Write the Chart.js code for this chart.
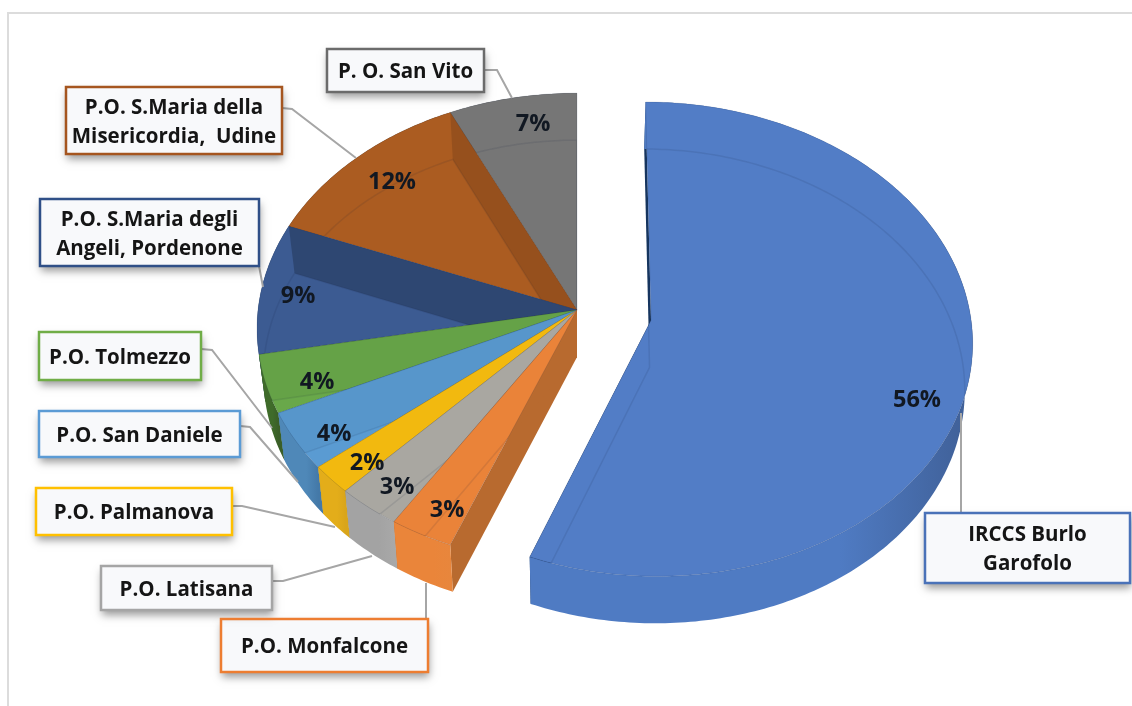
<!DOCTYPE html>
<html>
<head>
<meta charset="utf-8">
<style>
  html, body { margin: 0; padding: 0; background: #fff; overflow: hidden; }
  canvas { display: block; }
</style>
<script src="https://cdn.jsdelivr.net/npm/chart.js@4/dist/chart.umd.min.js"></script>
</head>
<body>
<canvas id="myChart" width="1132" height="706"></canvas>
<script>
// data
const categories = ['IRCCS Burlo Garofolo', 'P.O. Monfalcone', 'P.O. Latisana', 'P.O. Palmanova', 'P.O. San Daniele',
    'P.O. Tolmezzo', 'P.O. S.Maria degli Angeli, Pordenone', 'P.O. S.Maria della Misericordia, Udine', 'P. O. San Vito'];
const shares = [56, 3, 3, 2, 4, 4, 9, 12, 7];
const explode = [226, 0, 0, 0, 0, 0, 0, 0, 0];

// styles, same order as categories
const topColors = ['#527dc6', '#ea8339', '#a9a7a1', '#f2b90f', '#5a9bd2', '#69a84a', '#3c5b92', '#ab5c21', '#767676'];
const wallColors = ['#4f7bc3', '#ea853a', '#a3a3a3', '#e3ad1a', '#4f88b8', '#3f6b2a', '#31507f', '#8f4c18', '#666666'];
const wallEndColors = ['#3f5f96', '#e8863c', '#a8a8a8', '#d9a51a', '#4479a8', '#3a5f28', '#31507f', '#8f4c18', '#666666'];
const sideColors = ['#16355f', '#b86a2f', '#8f8f8f', '#c99a14', '#4479a8', '#3f6b2a', '#27406f', '#8f4c18', '#666666'];
const shadeAlpha = [0, 0, 0, 0, 0.03, 0.03, 0.22, 0.12, 0];
const borderColors = ['#4a72b8', '#ed7d31', '#a5a5a5', '#ffc000', '#5b9bd5', '#70ad47', '#2f4f87', '#a5551f', '#6b6b6b'];

// label layout
const labelBoxes = [
    { lines: ['IRCCS Burlo', 'Garofolo'], box: [925, 513, 205, 70], leader: [[961, 513], [961, 413]] },
    { lines: ['P.O. Monfalcone'], box: [221, 619, 207, 53], leader: [[426, 619], [426, 583]] },
    { lines: ['P.O. Latisana'], box: [101, 566, 171, 44], leader: [[272, 581], [283, 581], [372, 556]] },
    { lines: ['P.O. Palmanova'], box: [36, 488, 196, 47], leader: [[232, 506], [242, 506], [335, 527]] },
    { lines: ['P.O. San Daniele'], box: [39, 411, 201, 46], leader: [[240, 426], [250, 427], [298, 482]] },
    { lines: ['P.O. Tolmezzo'], box: [39, 332, 162, 48], leader: [[201, 349], [212, 350], [272, 428]] },
    { lines: ['P.O. S.Maria degli', 'Angeli, Pordenone'], box: [40, 199, 219, 67], leader: [[259, 266], [263, 287]] },
    { lines: ['P.O. S.Maria della', 'Misericordia,  Udine'], box: [66, 87, 216, 67], leader: [[282, 108], [292, 109], [356, 158]] },
    { lines: ['P. O. San Vito'], box: [327, 49, 157, 43], leader: [[484, 70], [497, 70], [512, 98]] }
];
const percentSpots = [[917, 400], [447, 510], [397, 487], [367, 463], [334, 434], [317, 382], [298, 296], [392, 182], [533, 124]];

// the pie is tilted: a disc seen in perspective, apex of the unexploded part at (CX, CY)
const CX = 577, CY = 310, RX = 319, RY = 234, TILT = 0.079, DEPTH = 47, FLOOR_SCALE = 0.98;

function discPoint(arc, angle, r) {
    const d = (arc.options.offset / 4) / arc.outerRadius;
    const mid = (arc.startAngle + arc.endAngle) / 2;
    const u = d * Math.cos(mid) + r * Math.cos(angle);
    const v = d * Math.sin(mid) + r * Math.sin(angle);
    const w = 1 - TILT * v;
    return [CX + RX * u / w, CY + RY * v / w];
}
function floorPoint(p) {
    return [CX + (p[0] - CX) * FLOOR_SCALE, p[1] + DEPTH];
}
function rimPoints(arc) {
    const pts = [];
    const n = Math.max(2, Math.ceil((arc.endAngle - arc.startAngle) / 0.015));
    for (let i = 0; i <= n; i++) {
        pts.push(discPoint(arc, arc.startAngle + (arc.endAngle - arc.startAngle) * i / n, 1));
    }
    return pts;
}
function tracePath(ctx, pts, close) {
    ctx.beginPath();
    pts.forEach((p, i) => i ? ctx.lineTo(p[0], p[1]) : ctx.moveTo(p[0], p[1]));
    if (close) ctx.closePath();
}

function drawSlice(ctx, arc, i) {
    const apex = discPoint(arc, arc.startAngle, 0);
    const rim = rimPoints(arc);
    const floorRim = rim.map(floorPoint);
    const floorApex = floorPoint(apex);
    const first = rim[0], last = rim[rim.length - 1];
    const faces = [[apex, first, floorRim[0], floorApex], [apex, last, floorRim[floorRim.length - 1], floorApex]];

    // cut faces
    ctx.fillStyle = sideColors[i];
    faces.forEach(f => { tracePath(ctx, f, true); ctx.fill(); });

    // outer wall
    const xs = rim.map(p => p[0]);
    const grad = ctx.createLinearGradient(Math.min(...xs), 0, Math.max(...xs), 0);
    grad.addColorStop(0, wallColors[i]);
    grad.addColorStop(0.7, wallColors[i]);
    grad.addColorStop(1, wallEndColors[i]);
    ctx.fillStyle = grad;
    tracePath(ctx, rim.concat(floorRim.slice().reverse()), true);
    ctx.fill();

    // top face
    const top = [apex].concat(rim);
    ctx.fillStyle = topColors[i];
    tracePath(ctx, top, true);
    ctx.fill();

    // what shows through the top face
    ctx.save();
    tracePath(ctx, top, true);
    ctx.clip();
    if (shadeAlpha[i]) {
        ctx.fillStyle = 'rgba(0,0,0,' + shadeAlpha[i] + ')';
        faces.forEach(f => { tracePath(ctx, f, true); ctx.fill(); });
    }
    ctx.strokeStyle = 'rgba(20,30,60,0.1)';
    ctx.lineWidth = 1.5;
    tracePath(ctx, [floorApex].concat(floorRim), true);
    ctx.stroke();
    ctx.restore();

    ctx.strokeStyle = 'rgba(30,40,70,0.14)';
    ctx.lineWidth = 1;
    tracePath(ctx, top, true);
    ctx.stroke();
}

function drawLabel(ctx, item) {
    const [x, y, w, h] = item.box;
    ctx.strokeStyle = '#a6a6a6';
    ctx.lineWidth = 2;
    tracePath(ctx, item.leader, false);
    ctx.stroke();
    ctx.save();
    ctx.shadowColor = 'rgba(0,0,0,0.4)';
    ctx.shadowBlur = 8;
    ctx.shadowOffsetX = 1;
    ctx.shadowOffsetY = 5;
    ctx.fillStyle = '#f8f9fb';
    ctx.fillRect(x, y, w, h);
    ctx.restore();
}

const tiltedPie = {
    id: 'tiltedPie',
    beforeDatasetsDraw(chart) {
        const ctx = chart.ctx;
        const arcs = chart.getDatasetMeta(0).data;

        // page frame
        ctx.fillStyle = '#dcdcdc';
        ctx.fillRect(8, 12, 1124, 2);
        ctx.fillRect(7, 12, 2, 694);

        // back slices first, the exploded one last
        for (let i = arcs.length - 1; i >= 0; i--) {
            drawSlice(ctx, arcs[i], i);
        }

        labelBoxes.forEach(item => drawLabel(ctx, item));
        labelBoxes.forEach((item, i) => {
            const [x, y, w, h] = item.box;
            ctx.strokeStyle = borderColors[i];
            ctx.lineWidth = 2.5;
            ctx.strokeRect(x, y, w, h);
            ctx.fillStyle = '#151515';
            ctx.font = '700 20.5px "Open Sans"';
            ctx.textAlign = 'center';
            ctx.textBaseline = 'middle';
            item.lines.forEach((line, k) => {
                ctx.fillText(line, x + w / 2, y + h / 2 + 2 + (k - (item.lines.length - 1) / 2) * 29);
            });
        });

        // percentages
        ctx.font = '700 23.5px "Open Sans"';
        ctx.fillStyle = '#111822';
        shares.forEach((v, i) => {
            ctx.fillText(v + '%', percentSpots[i][0], percentSpots[i][1]);
        });
        return false;
    }
};

const ctx = document.getElementById('myChart').getContext('2d');
const myChart = new Chart(ctx, {
    type: 'pie',
    data: {
        labels: categories,
        datasets: [{
            data: shares,
            backgroundColor: topColors,
            offset: explode,
            borderWidth: 0
        }]
    },
    options: {
        responsive: false,
        animation: false,
        plugins: {
            legend: { display: false },
            tooltip: { enabled: false }
        }
    },
    plugins: [tiltedPie]
});
</script>
</body>
</html>
